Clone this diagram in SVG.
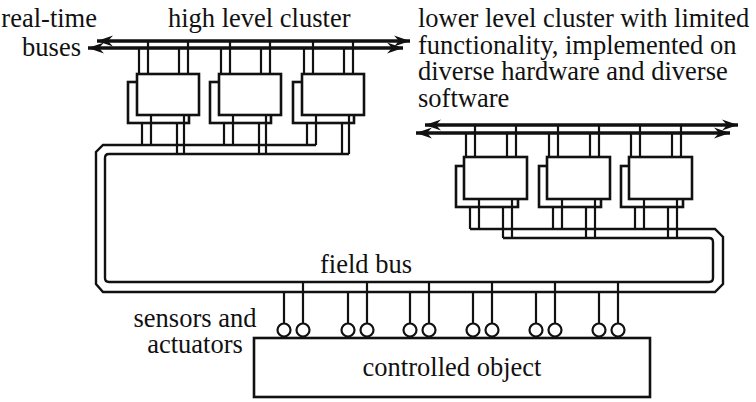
<svg xmlns="http://www.w3.org/2000/svg" width="756" height="402" viewBox="0 0 756 402">
<style>
.t{font-family:"Liberation Serif","Times New Roman",serif;font-size:26.5px;fill:#111}
.box{fill:#fff;stroke:#111;stroke-width:2.6}
.w{fill:none;stroke:#111;stroke-width:2.2}
.bus{fill:none;stroke:#111;stroke-width:3.4}
.ring{fill:none;stroke:#111;stroke-width:2.4}
.s{fill:#fff;stroke:#111;stroke-width:2.2}
</style>
<defs>
<marker id="ah" markerUnits="userSpaceOnUse" markerWidth="20" markerHeight="14" viewBox="-17 -7 20 14" refX="0" refY="0" orient="auto-start-reverse">
<path d="M0,0 L-16,-5.5 L-11,0 L-16,5.5 Z" fill="#111"/>
</marker>
</defs>
<rect width="756" height="402" fill="#fff"/>

<g id="hl-node1"><rect class="box" x="128" y="82" width="61" height="41"/><rect class="box" x="137" y="74" width="62" height="41"/></g>
<g id="hl-node2"><rect class="box" x="210" y="82" width="61" height="41"/><rect class="box" x="219" y="74" width="62" height="41"/></g>
<g id="hl-node3"><rect class="box" x="293" y="82" width="61" height="41"/><rect class="box" x="302" y="74" width="62" height="41"/></g>

<g id="ll-node1"><rect class="box" x="456" y="166" width="62" height="41"/><rect class="box" x="464" y="157" width="63" height="42"/></g>
<g id="ll-node2"><rect class="box" x="539" y="166" width="62" height="41"/><rect class="box" x="547" y="157" width="63" height="42"/></g>
<g id="ll-node3"><rect class="box" x="621" y="166" width="62" height="41"/><rect class="box" x="629" y="157" width="63" height="42"/></g>

<g id="controlled-object"><rect class="box" x="254" y="338" width="396" height="59"/>
<text class="t" x="452" y="376" text-anchor="middle">controlled object</text></g>

<g id="connectors">
<path class="bus" d="M97,41H410" marker-start="url(#ah)" marker-end="url(#ah)"/>
<path class="bus" d="M88,48H403" marker-start="url(#ah)" marker-end="url(#ah)"/>
<path class="bus" d="M425,125H738" marker-start="url(#ah)" marker-end="url(#ah)"/>
<path class="bus" d="M416,133H730" marker-start="url(#ah)" marker-end="url(#ah)"/>

<path class="w" d="M139,74V48M148,74V41M179,74V48M188,74V41M142,123V145M151,115V145M177,123V154M184,115V154"/>
<path class="w" d="M221,74V48M230,74V41M261,74V48M270,74V41M224,123V145M233,115V145M259,123V154M266,115V154"/>
<path class="w" d="M304,74V48M313,74V41M344,74V48M353,74V41M307,123V145M316,115V145M342,123V154M349,115V154"/>

<path class="w" d="M466,157V133M475,157V125M507,157V133M516,157V125M470,207V229M479,199V229M503,207V238M512,199V238"/>
<path class="w" d="M549,157V133M558,157V125M590,157V133M599,157V125M553,207V229M562,199V229M586,207V238M595,199V238"/>
<path class="w" d="M631,157V133M640,157V125M672,157V133M681,157V125M635,207V229M644,199V229M668,207V238M677,199V238"/>

<path class="ring" d="M316,145H103L96,152V284L103,292H715L723,284V237L715,229H470"/>
<path class="ring" d="M349,154H109Q105,154 105,158V278Q105,282 109,282H709Q713,282 713,278V242Q713,238 709,238H503"/>

<path class="w" d="M284,292V323M303,282V323M348,292V323M367,282V323M410,292V323M429,282V323M473,292V323M492,282V323M536,292V323M555,282V323M599,292V323M618,282V323"/>
<g class="s">
<circle cx="284" cy="330" r="6.5"/><circle cx="303" cy="330" r="6.5"/>
<circle cx="348" cy="330" r="6.5"/><circle cx="367" cy="330" r="6.5"/>
<circle cx="410" cy="330" r="6.5"/><circle cx="429" cy="330" r="6.5"/>
<circle cx="473" cy="330" r="6.5"/><circle cx="492" cy="330" r="6.5"/>
<circle cx="536" cy="330" r="6.5"/><circle cx="555" cy="330" r="6.5"/>
<circle cx="599" cy="330" r="6.5"/><circle cx="618" cy="330" r="6.5"/>
</g>
</g>

<g id="labels">
<text class="t" x="97" y="27" text-anchor="end">real-time</text>
<text class="t" x="81" y="56" text-anchor="end">buses</text>
<text class="t" x="168" y="27">high level cluster</text>
<text class="t" x="418" y="27">lower level cluster with limited</text>
<text class="t" x="418" y="54">functionality, implemented on</text>
<text class="t" x="418" y="80">diverse hardware and diverse</text>
<text class="t" x="418" y="107">software</text>
<text class="t" x="320" y="273">field bus</text>
<text class="t" x="195" y="327" text-anchor="middle">sensors and</text>
<text class="t" x="195" y="353" text-anchor="middle">actuators</text>
</g>
</svg>
